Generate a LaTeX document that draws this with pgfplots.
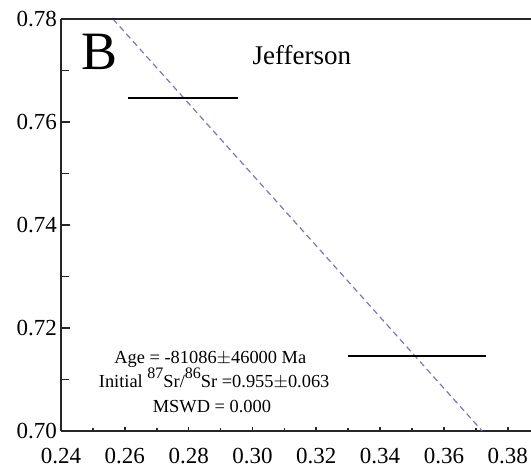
\documentclass[border=0pt]{standalone}
\usepackage{fontspec}
\setmainfont{Liberation Serif}
\usepackage{pgfplots}
\pgfplotsset{compat=1.18}

\definecolor{isoline}{RGB}{120,120,190}

\newcommand{\iso}[1]{\raisebox{0.45em}{\fontsize{8}{8}\selectfont #1}}

\pgfplotsset{
  frame/.style={
    scale only axis,
    width=235pt, height=206pt,
    xmin=0.24, xmax=0.3873,
    ymin=0.70, ymax=0.78,
    axis x line*=bottom,
    axis y line*=left,
    axis line style={line width=1.2pt, black!85},
    xtick={0.24,0.26,...,0.381},
    ytick={0.70,0.72,...,0.781},
    minor x tick num=1,
    minor y tick num=1,
    tick align=inside,
    tick style={black!85, line width=0.8pt},
  },
}

\begin{document}
\begin{tikzpicture}
\begin{axis}[
  frame,
  name=ax,
  major tick length=2pt, minor tick length=1.5pt,
  y tick style={draw=none},
  ticklabel style={font=\fontsize{11.5}{12}\selectfont},
  xticklabel style={yshift=-5pt},
  yticklabel style={xshift=1.5pt},
  /pgf/number format/assume math mode=true,
  /pgf/number format/fixed,
  /pgf/number format/fixed zerofill,
  /pgf/number format/precision=2,
  scaled ticks=false,
  clip=false,
]
  % isochron line
  \addplot[isoline, line width=0.6pt, dash pattern=on 3pt off 2pt]
    coordinates {(0.2563,0.78) (0.3720,0.70)};
  % sample error bars
  \addplot[draw=none, mark=none,
    error bars/.cd, x dir=both, x explicit, error mark=none,
    error bar style={line width=1pt, black}]
    coordinates {
      (0.2783,0.7647) +- (0.0173,0)
      (0.3516,0.7146) +- (0.0216,0)
    };
  \draw[line width=1.2pt, black!85] (rel axis cs:0,1) -- (rel axis cs:1,1);
  \node[anchor=base, font=\fontsize{27}{27}\selectfont, inner sep=0pt] at (axis cs:0.2522,0.7701) {B};
  \node[anchor=base, font=\fontsize{13.5}{14}\selectfont, inner sep=0pt] at (axis cs:0.3155,0.7711) {Jefferson};
  \node[anchor=base, font=\fontsize{9.2}{10}\selectfont, inner sep=0pt] at (axis cs:0.2868,0.7132) {Age = -81086$\pm$46000 Ma};
  \node[anchor=base, font=\fontsize{9.2}{10}\selectfont, inner sep=0pt] at (axis cs:0.2880,0.7085) {Initial \iso{87}Sr/\iso{86}Sr =0.955$\pm$0.063};
  \node[anchor=base, font=\fontsize{9.2}{10}\selectfont, inner sep=0pt] at (axis cs:0.2873,0.7035) {MSWD = 0.000};
\end{axis}
% longer ticks on the y axis
\begin{axis}[
  frame,
  hide x axis,
  major tick length=4.5pt, minor tick length=4pt,
  yticklabels={},
]
\end{axis}
\pgfresetboundingbox
\path (ax.south west) ++(-30.5pt,-18pt) coordinate (bl);
\path (ax.north east) ++(0pt,9.5pt) coordinate (tr);
\path[use as bounding box] (bl) rectangle (tr);
\end{tikzpicture}
\end{document}
